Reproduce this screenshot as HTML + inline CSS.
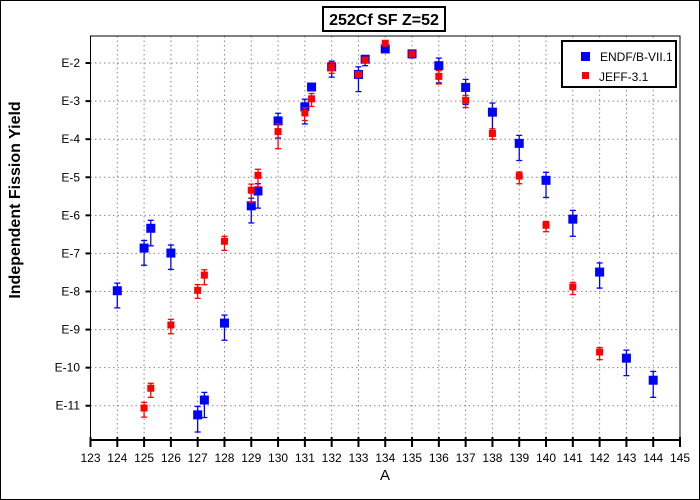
<!DOCTYPE html>
<html><head><meta charset="utf-8"><style>
html,body{margin:0;padding:0;background:#fff;}
svg{display:block;font-family:"Liberation Sans",Arial,sans-serif;}
</style></head><body>
<svg id="chart" width="700" height="500" viewBox="0 0 700 500">
<rect x="0.5" y="0.5" width="699" height="499" fill="#fff" stroke="#000"/>
<g id="grid"></g>
<g id="axes"></g>
<g id="series"></g>
<g>
<rect x="323" y="7" width="122" height="24" fill="#fff" stroke="#000" stroke-width="2"/>
<text x="384" y="25" text-anchor="middle" font-size="16" font-weight="bold">252Cf SF Z=52</text>
</g>
<text transform="translate(20,200) rotate(-90)" text-anchor="middle" font-size="16" font-weight="bold">Independent Fission Yield</text>
<text x="385" y="480" text-anchor="middle" font-size="15">A</text>
<g>
<rect x="562" y="41" width="114" height="46" fill="#fff" stroke="#000" stroke-width="2"/>
<rect x="581" y="52" width="9" height="9" fill="#0000ff"/>
<text x="600" y="61" font-size="12">ENDF/B-VII.1</text>
<rect x="582" y="72" width="7" height="7" fill="#ff0000"/>
<text x="599" y="81" font-size="12">JEFF-3.1</text>
</g>
</svg>
<script>
const xTicks = [123,124,125,126,127,128,129,130,131,132,133,134,135,136,137,138,139,140,141,142,143,144,145];
const yTicks = [-2,-3,-4,-5,-6,-7,-8,-9,-10,-11];
const yTickLabels = ["E-2","E-3","E-4","E-5","E-6","E-7","E-8","E-9","E-10","E-11"];
const endfA = [124,125,125.25,126,127,127.25,128,129,129.25,130,131,131.25,132,133,133.25,134,135,136,137,138,139,140,141,142,143,144];
const endfLog = [-7.98,-6.86,-6.34,-6.99,-11.24,-10.85,-8.83,-5.75,-5.36,-3.52,-3.15,-2.63,-2.1,-2.3,-1.9,-1.63,-1.76,-2.07,-2.64,-3.29,-4.11,-5.08,-6.1,-7.49,-9.75,-10.33];
const endfErrUp = [0.2,0.2,0.21,0.21,0.22,0.2,0.21,0.2,0.19,0.2,0.2,0,0.15,0.2,0,0,0.1,0.2,0.21,0.24,0.21,0.21,0.23,0.24,0.21,0.23];
const endfErrDn = [0.45,0.45,0.46,0.43,0.45,0.46,0.45,0.45,0.45,0.45,0.45,0,0.27,0.45,0.17,0,0.1,0.45,0.45,0.44,0.45,0.45,0.45,0.42,0.46,0.45];
const jeffA = [125,125.25,126,127,127.25,128,129,129.25,130,131,131.25,132,133,133.25,134,135,136,137,138,139,140,141,142];
const jeffLog = [-11.06,-10.54,-8.88,-7.97,-7.57,-6.68,-5.34,-4.95,-3.8,-3.31,-2.94,-2.12,-2.3,-1.92,-1.48,-1.76,-2.35,-2.98,-3.85,-4.97,-6.26,-7.88,-9.59];
const jeffErrUp = [0.15,0.13,0.15,0.15,0.14,0.13,0.16,0.16,0.2,0.14,0.14,0.14,0,0,0,0,0.15,0.13,0.12,0.11,0.1,0.12,0.12];
const jeffErrDn = [0.24,0.24,0.23,0.21,0.25,0.24,0.31,0.3,0.45,0.2,0.2,0.15,0,0,0,0,0.2,0.19,0.15,0.2,0.17,0.2,0.2];

const NS="http://www.w3.org/2000/svg";
const X0=90.5,X1=680,Y0=36,Y1=440,xmin=123,xmax=145,ymax=-1.29,ymin=-11.9;
const xs=a=>X0+(a-xmin)/(xmax-xmin)*(X1-X0);
const ys=l=>Y0+(ymax-l)/(ymax-ymin)*(Y1-Y0);
function mk(tag,attrs,parent){const e=document.createElementNS(NS,tag);for(const k in attrs)e.setAttribute(k,attrs[k]);parent.appendChild(e);return e;}
const grid=document.getElementById('grid'),axes=document.getElementById('axes'),ser=document.getElementById('series');

xTicks.forEach((t,i)=>{
  const x=xs(t);
  if(i>0&&i<xTicks.length-1){const g=mk('line',{x1:x,x2:x,y1:Y0,y2:Y1,stroke:'#888','stroke-dasharray':'1.5,3'},grid);
  
  }
  const tk=mk('line',{x1:x,x2:x,y1:Y1-3,y2:Y1+7,stroke:'#000','stroke-width':2},axes);
  
  
  const lb=mk('text',{x:x,y:462,'text-anchor':'middle','font-size':12},axes);
  lb.textContent=t;
  
  
});
yTicks.forEach((t,i)=>{
  const y=ys(t);
  const g=mk('line',{x1:X0,x2:X1,y1:y,y2:y,stroke:'#888','stroke-dasharray':'1.5,3'},grid);
  
  
  const tk=mk('line',{x1:X0-5,x2:X0,y1:y,y2:y,stroke:'#000','stroke-width':2},axes);
  
  
  const lb=mk('text',{x:80,y:y+4,'text-anchor':'end','font-size':12},axes);
  lb.textContent=yTickLabels[i];
  
  
});
const frame=mk('rect',{x:X0,y:Y0,width:X1-X0,height:Y1-Y0,fill:'none',stroke:'#000'},axes);


const xa=mk('line',{x1:X0,x2:X1,y1:Y1,y2:Y1,stroke:'#000','stroke-width':2},axes);



function drawSeries(A,L,up,dn,color,size,name){
  A.forEach((a,i)=>{
    const x=xs(a),y=ys(L[i]);
    const g=mk('g',{},ser);
    
    
    if(up[i]>0||dn[i]>0){
      const yt=ys(L[i]+up[i]),yb=ys(L[i]-dn[i]);
      mk('line',{x1:x,x2:x,y1:yt,y2:yb,stroke:color,'stroke-width':1.3},g);
      if(up[i]>0)mk('line',{x1:x-3,x2:x+3,y1:yt,y2:yt,stroke:color,'stroke-width':1.3},g);
      if(dn[i]>0)mk('line',{x1:x-3,x2:x+3,y1:yb,y2:yb,stroke:color,'stroke-width':1.3},g);
    }
    mk('rect',{x:x-size/2,y:y-size/2,width:size,height:size,fill:color},g);
  });
}
drawSeries(endfA,endfLog,endfErrUp,endfErrDn,'#0000ff',9,'endf');
drawSeries(jeffA,jeffLog,jeffErrUp,jeffErrDn,'#ff0000',7,'jeff');
</script>
</body></html>
